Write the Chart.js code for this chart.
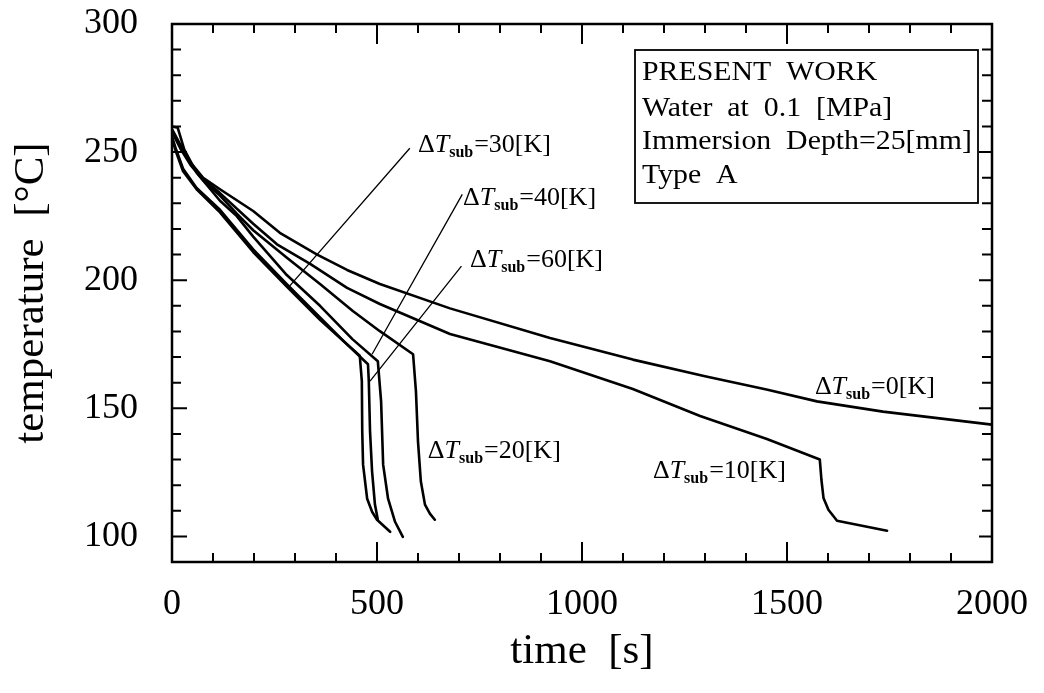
<!DOCTYPE html>
<html><head><meta charset="utf-8">
<script src="https://cdn.jsdelivr.net/npm/chart.js@4/dist/chart.umd.min.js"></script>
<style>html,body{margin:0;padding:0;background:#fff}#wrap{width:1044px;height:693px;position:relative}</style>
</head><body><div id="wrap"><canvas id="c" width="1044" height="693"></canvas></div>
<script>
// ---- tick labels ----
const xTickLabels = [0, 500, 1000, 1500, 2000];
const yTickLabels = [100, 150, 200, 250, 300];

// ---- series (time [s], temperature [°C]) ----
const time0K = [0, 20, 45, 76, 117, 198, 263, 354, 427, 507, 678, 922, 1124, 1300, 1450, 1573, 1734, 2000];
const temp0K = [259, 253, 246, 240, 235.5, 227, 218.5, 210, 204, 198.5, 189, 177.4, 169, 162.5, 157.3, 152.7, 148.7, 143.6];

const time10K = [0, 20, 45, 76, 117, 198, 256, 337, 427, 507, 678, 922, 1124, 1288, 1451, 1580, 1584, 1589, 1601, 1622, 1744];
const temp10K = [258, 252, 245.5, 239.5, 234, 222, 214, 206.4, 197, 190.7, 179, 168.4, 157.5, 147, 138, 130, 122, 115, 110.4, 106.1, 102.2];

const time20K = [0, 20, 45, 76, 117, 158, 198, 281, 361, 441, 507, 588, 595, 600, 607, 617, 629, 641];
const temp20K = [258, 251.5, 245, 239, 233, 226, 219.5, 208.7, 198.5, 188, 180.1, 171.1, 156.6, 137, 121.4, 112.4, 108.9, 106.5];

const time30K = [0, 10, 27, 60, 117, 198, 280, 361, 420, 458, 463, 464, 466, 476, 488, 500, 532];
const temp30K = [255.5, 250, 242.5, 235.5, 226.5, 211, 197.5, 184.5, 176, 170.5, 160.6, 141, 128, 114.7, 109.6, 106.5, 101.8];

const time60K = [0, 10, 27, 60, 117, 198, 280, 361, 420, 478, 480, 483, 488, 495, 502];
const temp60K = [256, 251, 243.5, 236, 227.5, 212, 198.5, 185.5, 176, 167.2, 160.6, 141, 125.3, 112.4, 106.5];

const time40K = [0, 14, 30, 60, 117, 158, 198, 280, 361, 440, 502, 510, 515, 527, 544, 563];
const temp40K = [260, 259.5, 251, 242, 231, 225, 217, 202, 190, 177, 168.4, 152.7, 128, 114.7, 105.7, 99.8];

// ---- annotation texts ----
const subcoolingValues = [30, 40, 60, 20, 10, 0];
const boxLines = ['PRESENT  WORK', 'Water  at  0.1  [MPa]', 'Immersion  Depth=25[mm]', 'Type  A'];

// annotation anchors (data coordinates): label left/baseline, leader line from -> to
const labelAnchors = [
  {t: 600, T: 249.9, from: [580, 251.5], to: [283, 197]},
  {t: 710, T: 229.5, from: [708, 233.5], to: [488, 171.1]},
  {t: 727, T: 205.2, from: [706, 205.5], to: [483, 160.6]},
  {t: 624, T: 130.4},
  {t: 1173, T: 122.6},
  {t: 1568, T: 155.6}
];

const FONT = '"Liberation Serif", "Times New Roman", serif';

function pts(ts, Ts) { return ts.map((t, i) => ({x: t, y: Ts[i]})); }
function ds(ts, Ts) {
  return {data: pts(ts, Ts), borderColor: '#000', borderWidth: 2.6, pointRadius: 0,
          fill: false, tension: 0, borderJoinStyle: 'round', borderCapStyle: 'round'};
}

function drawSubLabel(ctx, x, y, value) {
  let cx = x;
  ctx.textBaseline = 'alphabetic';
  ctx.textAlign = 'left';
  ctx.font = '26px ' + FONT; ctx.fillText('\u0394', cx, y); cx += ctx.measureText('\u0394').width;
  ctx.font = 'italic 26px ' + FONT; ctx.fillText('T', cx, y); cx += ctx.measureText('T').width;
  ctx.font = 'bold 16px ' + FONT; ctx.fillText('sub', cx, y + 5); cx += ctx.measureText('sub').width + 1;
  ctx.font = '26px ' + FONT; ctx.fillText('=' + value + '[K]', cx, y);
}

const decor = {
  id: 'decor',
  afterDraw(chart) {
    const ctx = chart.ctx, a = chart.chartArea, xs = chart.scales.x, ys = chart.scales.y;
    ctx.save();
    ctx.strokeStyle = '#000'; ctx.fillStyle = '#000';
    // frame
    ctx.lineWidth = 2.5;
    ctx.strokeRect(a.left, a.top, a.right - a.left, a.bottom - a.top);
    // inward ticks
    ctx.lineWidth = 2;
    ctx.beginPath();
    for (let v = xs.min; v <= xs.max; v += 100) {
      const p = xs.getPixelForValue(v);
      const major = xTickLabels.includes(v);
      const L = major ? 20 : 9;
      ctx.moveTo(p, a.bottom); ctx.lineTo(p, a.bottom - L);
      ctx.moveTo(p, a.top); ctx.lineTo(p, a.top + L);
    }
    for (let v = 100; v <= 300; v += 10) {
      const p = ys.getPixelForValue(v);
      const major = yTickLabels.includes(v);
      ctx.moveTo(a.left, p); ctx.lineTo(a.left + (major ? 15 : 9), p);
      ctx.moveTo(a.right, p); ctx.lineTo(a.right - (major ? 13 : 10), p);
    }
    ctx.stroke();
    // leader lines
    ctx.lineWidth = 1.3;
    ctx.beginPath();
    labelAnchors.forEach(l => {
      if (!l.from) return;
      ctx.moveTo(xs.getPixelForValue(l.from[0]), ys.getPixelForValue(l.from[1]));
      ctx.lineTo(xs.getPixelForValue(l.to[0]), ys.getPixelForValue(l.to[1]));
    });
    ctx.stroke();
    // labels
    labelAnchors.forEach((l, i) => {
      drawSubLabel(ctx, xs.getPixelForValue(l.t), ys.getPixelForValue(l.T), subcoolingValues[i]);
    });
    // info box
    const bx = a.left + 463, by = a.top + 26, bw = 343, bh = 153;
    ctx.fillStyle = '#fff';
    ctx.fillRect(bx, by, bw, bh);
    ctx.fillStyle = '#000';
    ctx.lineWidth = 1.8;
    ctx.strokeRect(bx, by, bw, bh);
    ctx.font = '28px ' + FONT;
    ctx.textAlign = 'left'; ctx.textBaseline = 'alphabetic';
    const offs = [30, 66, 99, 133];
    boxLines.forEach((s, i) => {
      ctx.save();
      ctx.translate(bx + 7, by + offs[i]);
      ctx.scale(1.065, 1);
      ctx.fillText(s, 0, 0);
      ctx.restore();
    });
    ctx.restore();
  }
};

new Chart(document.getElementById('c'), {
  type: 'line',
  data: {datasets: [ds(time0K, temp0K), ds(time10K, temp10K), ds(time20K, temp20K),
                    ds(time30K, temp30K), ds(time60K, temp60K), ds(time40K, temp40K)]},
  options: {
    responsive: false, animation: false,
    layout: {padding: {left: 0, top: 24, right: 52, bottom: 0}},
    plugins: {legend: {display: false}, tooltip: {enabled: false}},
    scales: {
      x: {type: 'linear', min: 0, max: 2000,
          afterFit(s) { s.height = 131; s.paddingLeft = 0; s.paddingRight = 0; },
          afterBuildTicks(s) { s.ticks = xTickLabels.map(v => ({value: v})); },
          grid: {display: false, drawTicks: false}, border: {display: false},
          ticks: {color: '#000', padding: 21, maxRotation: 0, autoSkip: false,
                  callback: v => String(v), font: {family: FONT, size: 36}},
          title: {display: true, text: 'time  [s]', color: '#000', font: {family: FONT, size: 43}, padding: {top: 0, bottom: 15}}},
      y: {type: 'linear', min: 90, max: 300,
          afterFit(s) { s.width = 172; s.paddingTop = 0; s.paddingBottom = 0; },
          afterBuildTicks(s) { s.ticks = yTickLabels.map(v => ({value: v})); },
          grid: {display: false, drawTicks: false}, border: {display: false},
          ticks: {color: '#000', padding: 34, autoSkip: false,
                  callback: v => String(v), font: {family: FONT, size: 36}},
          title: {display: true, text: 'temperature  [°C]', color: '#000', font: {family: FONT, size: 43}, padding: {top: 6, bottom: 0}}}
    }
  },
  plugins: [decor]
});
</script>
</body></html>
